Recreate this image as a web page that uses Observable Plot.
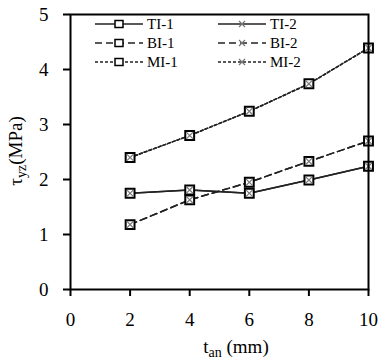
<!DOCTYPE html>
<html><head><meta charset="utf-8">
<script src="https://cdn.jsdelivr.net/npm/d3@7"></script>
<script src="https://cdn.jsdelivr.net/npm/@observablehq/plot@0.6"></script>
<style>
body{margin:0;background:#fff}
#c{position:relative;width:380px;height:360px}
</style>
</head><body><div id="c"></div>
<script>
const xValues = [2, 4, 6, 8, 10];
const TI1 = [1.75, 1.81, 1.75, 1.99, 2.24];
const TI2 = [1.75, 1.81, 1.75, 1.99, 2.24];
const BI1 = [1.18, 1.63, 1.95, 2.33, 2.70];
const BI2 = [1.18, 1.63, 1.95, 2.33, 2.70];
const MI1 = [2.40, 2.80, 3.24, 3.74, 4.39];
const MI2 = [2.40, 2.80, 3.24, 3.74, 4.39];
const xTicks = [0, 2, 4, 6, 8, 10];
const yTicks = [0, 1, 2, 3, 4, 5];
const seriesNames = ["TI-1", "TI-2", "BI-1", "BI-2", "MI-1", "MI-2"];
const seriesValues = [TI1, TI2, BI1, BI2, MI1, MI2];

const rows = [];
seriesNames.forEach((s, i) => xValues.forEach((x, j) => rows.push({series: s, group: s.slice(0, 2), kind: s.slice(3), x, y: seriesValues[i][j]})));

const dashes = {TI: null, BI: "7,4", MI: "3,2"};
const FONT = "'Liberation Serif','Times New Roman',serif";

const lineMarks = ["TI", "BI", "MI"].map(g =>
  Plot.line(rows.filter(r => r.group === g), {x: "x", y: "y", z: "series", stroke: "#222", strokeWidth: 1.5, strokeDasharray: dashes[g]}));

const plot = Plot.plot({
  width: 380, height: 360,
  marginLeft: 70, marginRight: 12, marginTop: 14, marginBottom: 71,
  style: {fontFamily: FONT, fontSize: "18px", background: "white", color: "black"},
  x: {domain: [0, 10]},
  y: {domain: [0, 5]},
  marks: [
    Plot.axisX({ticks: xTicks, tickFormat: d3.format("d"), tickSize: 7, tickPadding: 16, strokeWidth: 2, label: null, fontSize: 19}),
    Plot.axisY({ticks: yTicks, tickFormat: d3.format("d"), tickSize: 7, tickPadding: 15, strokeWidth: 2, label: null, fontSize: 19}),
    ...lineMarks,
    Plot.dot(rows.filter(r => r.kind === "1"), {x: "x", y: "y", symbol: "square", r: 5, stroke: "black", strokeWidth: 2, fill: "white"}),
    Plot.dot(rows.filter(r => r.kind === "2"), {x: "x", y: "y", symbol: "times", r: 3.2, stroke: "#777", strokeWidth: 1.2}),
    Plot.frame({stroke: "black", strokeWidth: 2})
  ]
});

document.getElementById("c").appendChild(plot);
const svg = d3.select(plot);

// axis titles
const xt = svg.append("text").attr("x", 236).attr("y", 353).attr("text-anchor", "middle")
  .attr("font-family", FONT).attr("font-size", 19).attr("fill", "black");
xt.append("tspan").text("t");
xt.append("tspan").attr("dy", 4).attr("font-size", 14).text("an");
xt.append("tspan").attr("dy", -4).text(" (mm)");

const yt = svg.append("text").attr("transform", "translate(22,151) rotate(-90)").attr("text-anchor", "middle")
  .attr("font-family", FONT).attr("font-size", 19).attr("fill", "black");
yt.append("tspan").text("τ");
yt.append("tspan").attr("dy", 4).attr("font-size", 14).text("yz");
yt.append("tspan").attr("dy", -4).text("(MPa)");

// legend
const leg = svg.append("g").attr("font-family", FONT).attr("font-size", 15).attr("text-anchor", "start");
seriesNames.forEach((s, i) => {
  const col = i % 2, row = Math.floor(i / 2);
  const x0 = col === 0 ? 95 : 218, y0 = 24 + row * 19;
  const g = s.slice(0, 2);
  leg.append("line").attr("x1", x0).attr("x2", x0 + 48).attr("y1", y0).attr("y2", y0)
    .attr("stroke", "#222").attr("stroke-width", 1.5).attr("stroke-dasharray", dashes[g]);
  if (s.endsWith("1")) {
    leg.append("rect").attr("x", x0 + 20).attr("y", y0 - 3.5).attr("width", 8).attr("height", 7)
      .attr("fill", "white").attr("stroke", "black").attr("stroke-width", 1.5);
  } else {
    leg.append("path").attr("d", `M${x0+21},${y0-3}L${x0+27},${y0+3}M${x0+21},${y0+3}L${x0+27},${y0-3}`)
      .attr("stroke", "#777").attr("stroke-width", 1.2);
  }
  leg.append("text").attr("x", x0 + 52).attr("y", y0 + 5).attr("text-anchor", "start").attr("fill", "black").text(s);
});
</script>
</body></html>
